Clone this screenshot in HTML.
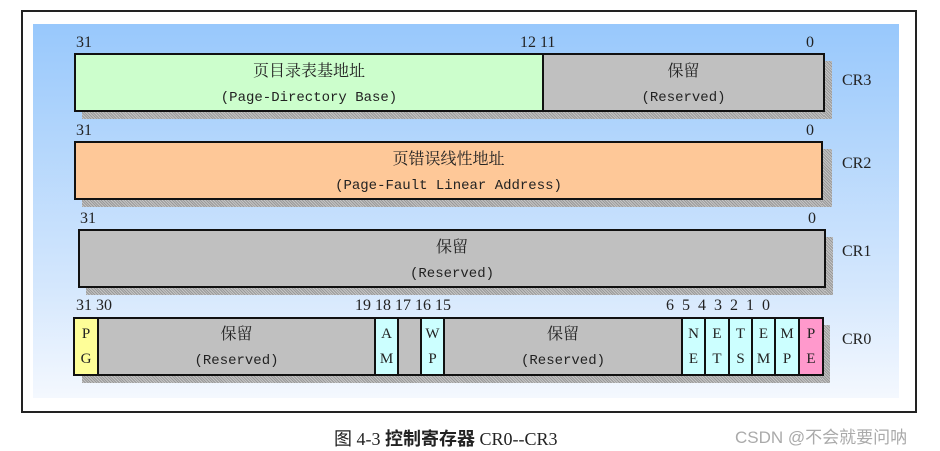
<!DOCTYPE html>
<html><head><meta charset="utf-8"><style>
body{margin:0;width:940px;height:451px;background:#fff;position:relative;overflow:hidden;font-family:"Liberation Serif","Noto Serif CJK SC",serif;color:#222}
.a{position:absolute}
.frame{left:21px;top:10px;width:892px;height:399px;border:2px solid #222}
.bg{left:33px;top:24px;width:866px;height:374px;background:linear-gradient(#98c8fc,#d4e7fd 70%,#f4f8fe)}
.box{position:absolute;border:2px solid #111;box-sizing:border-box;text-align:center;font-size:16px;line-height:25px}
.sh{position:absolute;background:#a9a9a9;background-image:repeating-linear-gradient(45deg,#999 0 1px,#c4c4c4 1px 2px)}
.n{position:absolute;font-size:16px;line-height:16px}
.cell{position:absolute;top:0;bottom:0;border-right:2px solid #111;box-sizing:border-box;font-size:15px;line-height:25px;padding-top:3px;text-align:center}
.lab{position:absolute;font-size:16px}
.m{font-family:"Liberation Mono","Noto Sans CJK SC",monospace;font-size:14px}
</style></head><body>
<div class="a frame"></div>
<div class="a bg"></div>

<!-- CR3 -->
<div class="sh" style="left:82px;top:111px;width:750px;height:8px"></div>
<div class="sh" style="left:824px;top:61px;width:8px;height:58px"></div>
<div class="n" style="left:76px;top:35px">31</div>
<div class="n" style="left:520px;top:35px">12 11</div>
<div class="n" style="left:806px;top:35px">0</div>
<div class="box" style="left:74px;top:53px;width:751px;height:59px;background:#ccfecc;padding-top:4px">
<div style="position:absolute;left:0;top:0;width:466px;padding-top:4px">页目录表基地址<br><span class="m">(Page-Directory Base)</span></div>
<div style="position:absolute;left:466px;top:0;right:0;bottom:0;background:#c0c0c0;border-left:2px solid #111;padding-top:4px">保留<br><span class="m">(Reserved)</span></div>
</div>
<div class="lab" style="left:842px;top:72px">CR3</div>

<!-- CR2 -->
<div class="sh" style="left:82px;top:199px;width:750px;height:8px"></div>
<div class="sh" style="left:822px;top:149px;width:10px;height:58px"></div>
<div class="n" style="left:76px;top:123px">31</div>
<div class="n" style="left:806px;top:123px">0</div>
<div class="box" style="left:74px;top:141px;width:749px;height:59px;background:#fec898;padding-top:4px">页错误线性地址<br><span class="m">(Page-Fault Linear Address)</span></div>
<div class="lab" style="left:842px;top:155px">CR2</div>

<!-- CR1 -->
<div class="sh" style="left:86px;top:287px;width:747px;height:8px"></div>
<div class="sh" style="left:825px;top:237px;width:8px;height:58px"></div>
<div class="n" style="left:80px;top:211px">31</div>
<div class="n" style="left:808px;top:211px">0</div>
<div class="box" style="left:78px;top:229px;width:748px;height:59px;background:#c0c0c0;padding-top:4px">保留<br><span class="m">(Reserved)</span></div>
<div class="lab" style="left:842px;top:243px">CR1</div>

<!-- CR0 -->
<div class="sh" style="left:82px;top:375px;width:748px;height:8px"></div>
<div class="sh" style="left:822px;top:325px;width:8px;height:58px"></div>
<div class="n" style="left:76px;top:298px">31 30</div>
<div class="n" style="left:355px;top:298px">19 18 17 16 15</div>
<div class="n" style="left:666px;top:298px">6 &nbsp;5 &nbsp;4 &nbsp;3 &nbsp;2 &nbsp;1 &nbsp;0</div>
<div class="box" style="left:73px;top:317px;width:751px;height:59px;background:#c0c0c0">
<div class="cell" style="left:0;width:24px;background:#fefe98">P<br>G</div>
<div class="cell" style="left:24px;width:277px;font-size:16px">保留<br><span class="m">(Reserved)</span></div>
<div class="cell" style="left:301px;width:23px;background:#ccffff">A<br>M</div>
<div class="cell" style="left:324px;width:23px"></div>
<div class="cell" style="left:347px;width:23px;background:#ccffff">W<br>P</div>
<div class="cell" style="left:370px;width:238px;font-size:16px">保留<br><span class="m">(Reserved)</span></div>
<div class="cell" style="left:608px;width:23px;background:#ccffff">N<br>E</div>
<div class="cell" style="left:631px;width:24px;background:#ccffff">E<br>T</div>
<div class="cell" style="left:655px;width:23px;background:#ccffff">T<br>S</div>
<div class="cell" style="left:678px;width:23px;background:#ccffff">E<br>M</div>
<div class="cell" style="left:701px;width:24px;background:#ccffff">M<br>P</div>
<div class="cell" style="left:725px;width:22px;background:#ff99cc;border-right:none">P<br>E</div>
</div>
<div class="lab" style="left:842px;top:331px">CR0</div>

<div class="a" style="left:334px;top:425px;font-size:18px;font-family:'Liberation Serif','Noto Sans CJK SC',serif">图 4-3 <b style="font-family:'Noto Sans CJK SC',sans-serif;font-weight:bold">控制寄存器</b> CR0--CR3</div>
<div class="a" style="left:735px;top:423px;font-size:17px;color:#aaa;font-family:'Liberation Sans','Noto Sans CJK SC',sans-serif">CSDN @不会就要问呐</div>
</body></html>
